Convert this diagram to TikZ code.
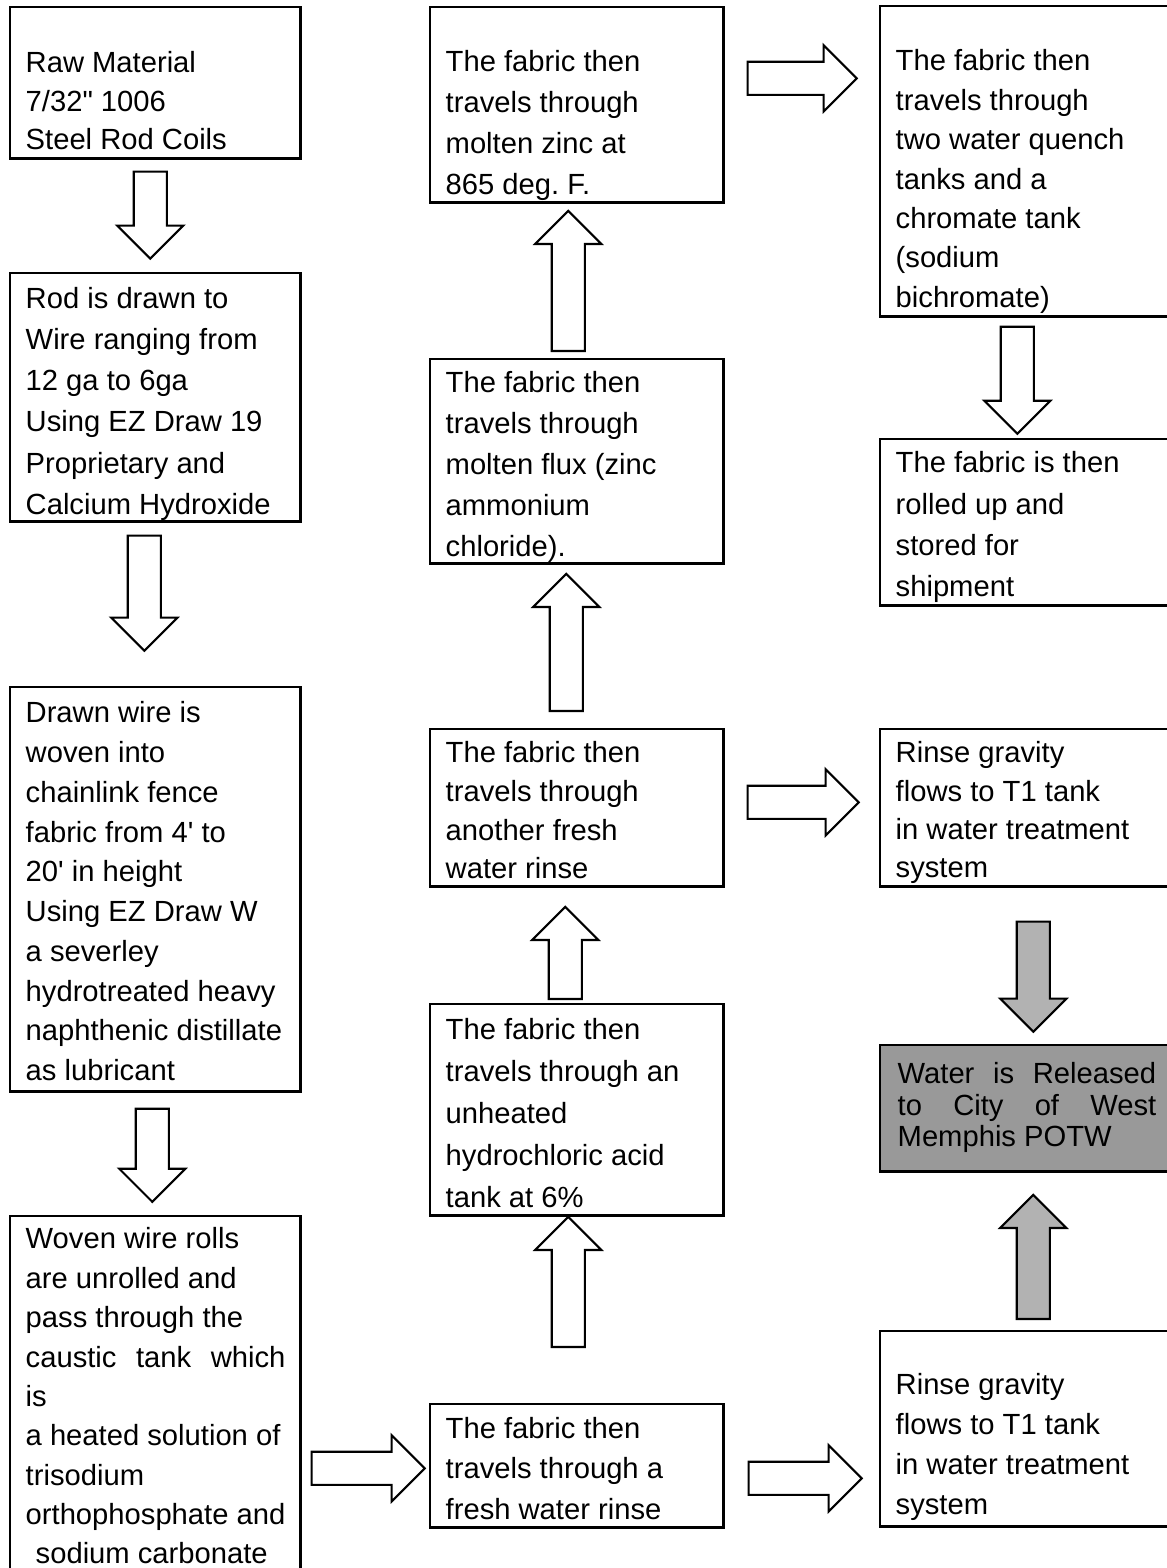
\documentclass[tikz,border=0pt]{standalone}
\usepackage{fontspec}
\setmainfont{Liberation Sans}
\usetikzlibrary{calc,shapes.arrows}
\frenchspacing

\begin{document}
\begin{tikzpicture}[x=0.01cm,y=-0.01cm,
  procbox/.style={draw,line width=0.7pt,anchor=north west,inner sep=0pt},
  txt/.style={anchor=north west,align=left,inner sep=0pt,font=\fontsize{8.3}{#1}\selectfont},
  txt/.default=11.2,
  blockarr/.style={single arrow,draw,line width=0.6pt,single arrow head extend=0.165cm,
    inner xsep=0pt,inner ysep=0.155cm,minimum width=1mm,anchor=tail},
  grayarr/.style={blockarr,fill=black!30}]
  \useasboundingbox (0,0) rectangle (1167,1568);
  % --- left column: rod to woven fabric ---
  \node[procbox,minimum width=2.90cm,minimum height=1.51cm] (raw) at (9,6) {};
  \node[txt=10.9] (rawtxt) at (25,51) {Raw Material\\7/32\textquotedbl{} 1006\\Steel Rod Coils};
  \node[procbox,minimum width=2.90cm,minimum height=2.48cm] (rod) at (9,272) {};
  \node[txt=11.67] (rodtxt) at (25,287) {Rod is drawn to\\Wire ranging from\\12 ga to 6ga\\Using EZ Draw 19\\Proprietary and\\Calcium Hydroxide};
  \node[procbox,minimum width=2.90cm,minimum height=4.04cm] (drawn) at (9,686) {};
  \node[txt=11.3] (drawntxt) at (25,701) {Drawn wire is\\woven into\\chainlink fence\\fabric from 4\textquotesingle{} to\\20\textquotesingle{} in height\\Using EZ Draw W\\a severley\\hydrotreated heavy\\naphthenic distillate\\as lubricant};
  \node[procbox,minimum width=2.90cm,minimum height=3.65cm] (woven) at (9,1215) {};
  \node[txt=11.2] (woventxt) at (25,1227) {Woven wire rolls\\are unrolled and\\pass through the\\caustic\hspace{.67em}tank\hspace{.67em}which\\is\\a heated solution of\\trisodium\\orthophosphate and\\\hspace*{.1cm}sodium carbonate};
  % --- middle column: fabric treatment ---
  \node[procbox,minimum width=2.93cm,minimum height=1.95cm] (zinc) at (429,6) {};
  \node[txt=11.67] (zinctxt) at (445,50) {The fabric then\\travels through\\molten zinc at\\865 deg. F.};
  \node[procbox,minimum width=2.93cm,minimum height=2.04cm] (flux) at (429,358) {};
  \node[txt=11.6] (fluxtxt) at (445,371) {The fabric then\\travels through\\molten flux (zinc\\ammonium\\chloride).};
  \node[procbox,minimum width=2.93cm,minimum height=1.57cm] (another) at (429,728) {};
  \node[txt=11.0] (anothertxt) at (445,741) {The fabric then\\travels through\\another fresh\\water rinse};
  \node[procbox,minimum width=2.93cm,minimum height=2.11cm] (hcl) at (429,1003) {};
  \node[txt=11.9] (hcltxt) at (445,1018) {The fabric then\\travels through an\\unheated\\hydrochloric acid\\tank at 6\%};
  \node[procbox,minimum width=2.93cm,minimum height=1.23cm] (fresh) at (429,1403) {};
  \node[txt=11.4] (freshtxt) at (445,1417) {The fabric then\\travels through a\\fresh water rinse};
  % --- right column: finishing and rinse water ---
  \node[procbox,minimum width=2.96cm,minimum height=3.10cm] (quench) at (879,5) {};
  \node[txt=11.2] (quenchtxt) at (895,49) {The fabric then\\travels through\\two water quench\\tanks and a\\chromate tank\\(sodium\\bichromate)};
  \node[procbox,minimum width=2.96cm,minimum height=1.66cm] (rolled) at (879,438) {};
  \node[txt=11.75] (rolledtxt) at (895,451) {The fabric is then\\rolled up and\\stored for\\shipment};
  \node[procbox,minimum width=2.96cm,minimum height=1.57cm] (rinseA) at (879,728) {};
  \node[txt=10.9] (rinseAtxt) at (895,741) {Rinse gravity\\flows to T1 tank\\in water treatment\\system};
  \node[procbox,fill=black!40,minimum width=2.96cm,minimum height=1.26cm] (water) at (879,1044) {};
  \node[txt=8.96] (watertxt) at (897,1062) {Water\hspace{.64em}is\hspace{.64em}Released\\to\hspace{1.07em}City\hspace{1.07em}of\hspace{1.07em}West\\Memphis POTW};
  \node[procbox,minimum width=2.96cm,minimum height=1.95cm] (rinseB) at (879,1330) {};
  \node[txt=11.3] (rinseBtxt) at (895,1373) {Rinse gravity\\flows to T1 tank\\in water treatment\\system};
  % --- block arrows (tail placed off the box they leave) ---
  \node[blockarr,rotate=-90,minimum height=0.87cm] (a1) at ($(raw.south)+(-5,11)$) {};
  \node[blockarr,rotate=-90,minimum height=1.15cm] (a2) at ($(rod.south)+(-11,12)$) {};
  \node[blockarr,rotate=-90,minimum height=0.93cm] (a3) at ($(drawn.south)+(-3,15)$) {};
  \node[blockarr,minimum height=1.13cm] (a4) at ($(woven.east |- fresh.west)+(9,2.5)$) {};
  \node[blockarr,rotate=90,minimum height=1.30cm] (a5) at ($(fresh.north)+(-8.5,-55)$) {};
  \node[blockarr,rotate=90,minimum height=0.92cm] (a6) at ($(hcl.north)+(-11.5,-3)$) {};
  \node[blockarr,rotate=90,minimum height=1.37cm] (a7) at ($(another.north)+(-10.5,-16)$) {};
  \node[blockarr,rotate=90,minimum height=1.40cm] (a8) at ($(flux.north)+(-8.5,-6)$) {};
  \node[blockarr,minimum height=1.09cm] (a9) at ($(zinc.east)+(22,-26.5)$) {};
  \node[blockarr,rotate=-90,minimum height=1.07cm] (a10) at ($(quench.south)+(-11,8)$) {};
  \node[blockarr,minimum height=1.11cm] (a11) at ($(another.east)+(22,-5.5)$) {};
  \node[grayarr,rotate=-90,minimum height=1.10cm] (a12) at ($(rinseA.south)+(5,33)$) {};
  \node[grayarr,rotate=90,minimum height=1.24cm] (a13) at ($(rinseB.north)+(5,-10)$) {};
  \node[blockarr,minimum height=1.13cm] (a14) at ($(fresh.east)+(23,12.5)$) {};
\end{tikzpicture}
\end{document}
